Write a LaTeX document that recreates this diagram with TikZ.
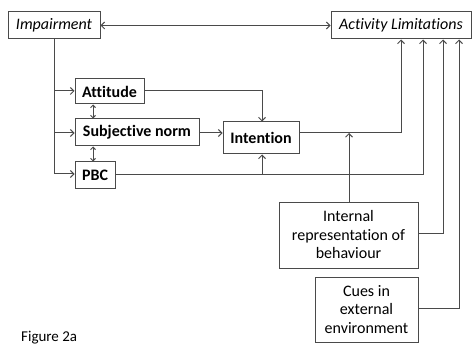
\documentclass[tikz,border=0pt]{standalone}
\usepackage{fontspec}
\setmainfont[Ligatures=NoCommon]{Carlito}
\usetikzlibrary{arrows.meta}
\definecolor{ln}{HTML}{4A4A4A}
\tikzset{
  box/.style={draw=ln, line width=1pt, inner sep=1pt, align=center, font=\fontsize{16}{18.5}\selectfont, text=black},
  conn/.style={draw=ln, line width=1pt},
  arr/.style={conn, -{Straight Barb[length=3.5pt,width=7pt]}},
  darr/.style={conn, {Straight Barb[length=2.5pt,width=5pt]}-{Straight Barb[length=2.5pt,width=5pt]}},
}
\begin{document}
\begin{tikzpicture}[x=1pt,y=-1pt]
\useasboundingbox (0,0) rectangle (472,345);
\node[box, minimum width=92pt, minimum height=27pt] (imp) at (54,25.5) {\itshape Impairment};
\node[box, minimum width=140pt, minimum height=27pt] (act) at (401,25.5) {\itshape Activity Limitations};
\node[box, minimum width=69pt, minimum height=25pt] (att) at (109.5,91.5) {\bfseries Attitude};
\node[box, minimum width=124pt, minimum height=27pt] (sn) at (137,132.5) {\bfseries Subjective norm};
\node[box, minimum width=40pt, minimum height=26pt] (pbc) at (95,175) {\bfseries PBC};
\node[box, minimum width=76pt, minimum height=32pt] (int) at (261,138) {\bfseries Intention};
\node[box, minimum width=139pt, minimum height=66pt] (irb) at (348.5,235) {Internal\\representation of\\behaviour};
\node[box, minimum width=103pt, minimum height=65pt] (cue) at (366.5,309.5) {Cues in\\external\\environment};
\node[anchor=south west, inner sep=0pt, font=\fontsize{15}{17}\selectfont] (fig) at (21,344) {Figure 2a};

\coordinate (tb) at (54,174);
\coordinate (ir) at (349,133);

% Impairment <-> Activity
\draw[conn, {Straight Barb[length=3.5pt,width=7pt]}-{Straight Barb[length=3.5pt,width=7pt]}] (imp.east) -- (act.west);
% trunk
\draw[conn] (imp.south) -- (tb);
\draw[arr] (54,91) -- (att.west |- 0,91);
\draw[arr] (54,133) -- (sn.west |- 0,133);
\draw[arr] (tb) -- (pbc.west |- tb);
% double arrows
\draw[darr] (att.south -| 93,0) -- (sn.north -| 93,0);
\draw[darr] (sn.south -| 93,0) -- (pbc.north -| 93,0);
% attitude -> intention
\draw[arr] (att.east |- 0,91) -- (262,91) -- (int.north -| 262,0);
% subjective norm -> intention
\draw[arr] (sn.east |- 0,133) -- (int.west |- 0,133);
% PBC -> intention and activity
\draw[arr] (pbc.east |- 0,175) -- (423,175) -- (act.south -| 423,0);
\draw[arr] (262,175) -- (int.south -| 262,0);
% intention -> activity
\draw[arr] (int.east |- ir) -- (401,133) -- (act.south -| 401,0);
% internal rep -> intention line
\draw[arr] (irb.north -| ir) -- (ir);
% internal rep -> activity
\draw[arr] (irb.east |- 0,233) -- (443,233) -- (act.south -| 443,0);
% cues -> activity
\draw[arr] (cue.east |- 0,308) -- (459,308) -- (act.south -| 459,0);
\end{tikzpicture}
\end{document}
